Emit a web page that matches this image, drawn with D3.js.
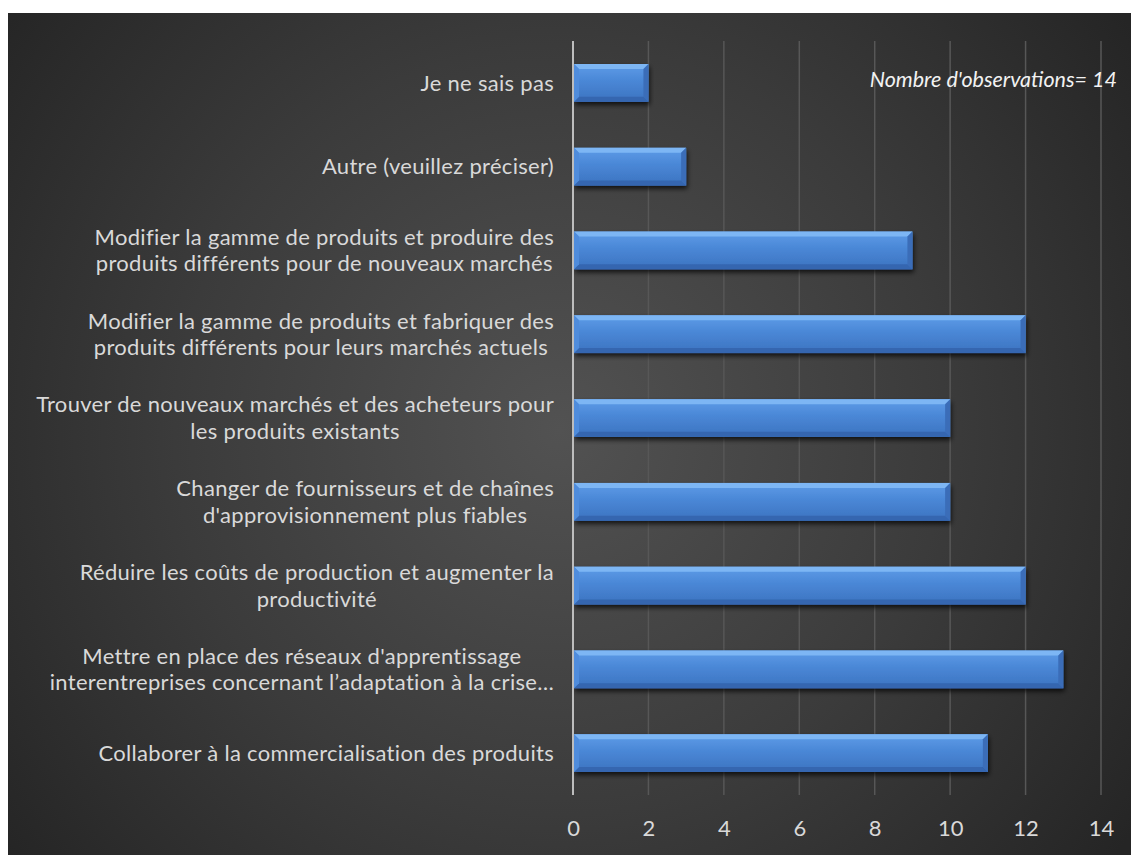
<!DOCTYPE html>
<html>
<head>
<meta charset="utf-8">
<script src="https://cdn.jsdelivr.net/npm/d3@7"></script>
<style>
  html, body { margin: 0; padding: 0; background: #ffffff; }
  svg { display: block; }
</style>
</head>
<body>
<svg id="chart" width="1131" height="855"></svg>
<script>
// Categories from top to bottom; "\n" marks a line break in the label.
const categories = [
  "Je ne sais pas",
  "Autre (veuillez préciser)",
  "Modifier la gamme de produits et produire des\nproduits différents pour de nouveaux marchés",
  "Modifier la gamme de produits et fabriquer des\nproduits différents pour leurs marchés actuels",
  "Trouver de nouveaux marchés et des acheteurs pour\nles produits existants",
  "Changer de fournisseurs et de chaînes\nd'approvisionnement plus fiables",
  "Réduire les coûts de production et augmenter la\nproductivité",
  "Mettre en place des réseaux d'apprentissage\ninterentreprises concernant l’adaptation à la crise…",
  "Collaborer à la commercialisation des produits"
];
const counts = [2, 3, 9, 12, 10, 10, 12, 13, 11];
const xTicks = [0, 2, 4, 6, 8, 10, 12, 14];
const noteText = "Nombre d'observations= 14";

const svg = d3.select("#chart");
const W = 1131, H = 855;
const FONT = "Lato, 'Open Sans', sans-serif";

// Background panel with a soft radial light
const defs = svg.append("defs");
const bg = defs.append("radialGradient").attr("id", "bgGrad")
  .attr("gradientUnits", "userSpaceOnUse")
  .attr("cx", 560).attr("cy", 430).attr("r", 700);
bg.append("stop").attr("offset", "0%").attr("stop-color", "#525252");
bg.append("stop").attr("offset", "55%").attr("stop-color", "#3b3b3b");
bg.append("stop").attr("offset", "100%").attr("stop-color", "#252525");

svg.append("rect").attr("x", 8).attr("y", 13)
  .attr("width", W - 8).attr("height", H - 13)
  .attr("fill", "url(#bgGrad)");

// Bar face gradient
const barGrad = defs.append("linearGradient").attr("id", "barGrad")
  .attr("x1", 0).attr("y1", 0).attr("x2", 0).attr("y2", 1);
barGrad.append("stop").attr("offset", "0%").attr("stop-color", "#5e9ce8");
barGrad.append("stop").attr("offset", "45%").attr("stop-color", "#4a87d6");
barGrad.append("stop").attr("offset", "100%").attr("stop-color", "#3c73c0");

const shadow = defs.append("filter").attr("id", "barShadow")
  .attr("x", "-5%").attr("y", "-30%").attr("width", "112%").attr("height", "180%");
shadow.append("feGaussianBlur").attr("in", "SourceAlpha").attr("stdDeviation", 2.5).attr("result", "b");
shadow.append("feOffset").attr("in", "b").attr("dx", 1).attr("dy", 3).attr("result", "o");
shadow.append("feComponentTransfer").attr("in", "o").attr("result", "s")
  .append("feFuncA").attr("type", "linear").attr("slope", 0.75);
const merge = shadow.append("feMerge");
merge.append("feMergeNode").attr("in", "s");
merge.append("feMergeNode").attr("in", "SourceGraphic");

// Scales
const x = d3.scaleLinear().domain([0, 14]).range([573, 1101]);
const y = d3.scaleBand().domain(categories).range([41, 795])
  .paddingInner(0.55).paddingOuter(0.275);

// Vertical gridlines
svg.append("g").selectAll("line").data(xTicks.filter(d => d !== 0)).join("line")
  .attr("x1", d => x(d)).attr("x2", d => x(d))
  .attr("y1", 41).attr("y2", 795)
  .attr("stroke", "#575757").attr("stroke-width", 1.5);

// Bars with bevelled edges
const bev = 5;
const bars = svg.append("g").selectAll("g").data(categories).join("g")
  .attr("filter", "url(#barShadow)");
bars.each(function (c, i) {
  const g = d3.select(this);
  const x0 = x(0) + 1, x1 = x(counts[i]);
  const y0 = y(c), h = y.bandwidth(), y1 = y0 + h;
  g.append("rect").attr("x", x0).attr("y", y0)
    .attr("width", x1 - x0).attr("height", h).attr("fill", "url(#barGrad)");
  // top bevel
  g.append("path").attr("d", `M${x0},${y0}L${x1},${y0}L${x1 - bev},${y0 + bev}L${x0 + bev},${y0 + bev}Z`)
    .attr("fill", "#7db6f4");
  // bottom bevel
  g.append("path").attr("d", `M${x0},${y1}L${x1},${y1}L${x1 - bev},${y1 - bev}L${x0 + bev},${y1 - bev}Z`)
    .attr("fill", "#3566b0");
  // left bevel
  g.append("path").attr("d", `M${x0},${y0}L${x0 + bev},${y0 + bev}L${x0 + bev},${y1 - bev}L${x0},${y1}Z`)
    .attr("fill", "#4f8cdc");
  // right bevel
  g.append("path").attr("d", `M${x1},${y0}L${x1 - bev},${y0 + bev}L${x1 - bev},${y1 - bev}L${x1},${y1}Z`)
    .attr("fill", "#3a6db8");
});

// Category axis line at zero
svg.append("line").attr("x1", x(0)).attr("x2", x(0))
  .attr("y1", 41).attr("y2", 795)
  .attr("stroke", "#bdbdbd").attr("stroke-width", 2);

// Value axis tick labels
const xAxis = svg.append("g").attr("transform", "translate(0,795)")
  .call(d3.axisBottom(x).tickValues(xTicks).tickSize(0).tickPadding(25));
xAxis.select(".domain").remove();
xAxis.selectAll("text").attr("fill", "#d9d9d9")
  .style("font-family", FONT).style("font-size", "22px");

// Category labels: each block right-aligned to the axis, lines centred within the block
const labelRight = 554;
const lineGap = 26.5;
const labels = svg.append("g").style("font-family", FONT).style("font-size", "22px")
  .style("letter-spacing", "0.3px")
  .attr("fill", "#d9d9d9");
categories.forEach(c => {
  const lines = c.split("\n");
  const cy = y(c) + y.bandwidth() / 2;
  const t = labels.append("text").attr("text-anchor", "middle");
  lines.forEach((ln, j) => {
    t.append("tspan").attr("x", 0)
      .attr("y", cy + (j - (lines.length - 1) / 2) * lineGap)
      .attr("dy", "0.35em").text(ln);
  });
  const w = d3.max(t.selectAll("tspan").nodes(), n => n.getComputedTextLength());
  t.selectAll("tspan").attr("x", labelRight - w / 2);
});

// Observation count note
svg.append("text").attr("x", 1117).attr("y", 87)
  .attr("text-anchor", "end")
  .style("font-family", FONT).style("font-size", "21.5px").style("font-style", "italic")
  .attr("fill", "#f2f2f2").text(noteText);
</script>
</body>
</html>
